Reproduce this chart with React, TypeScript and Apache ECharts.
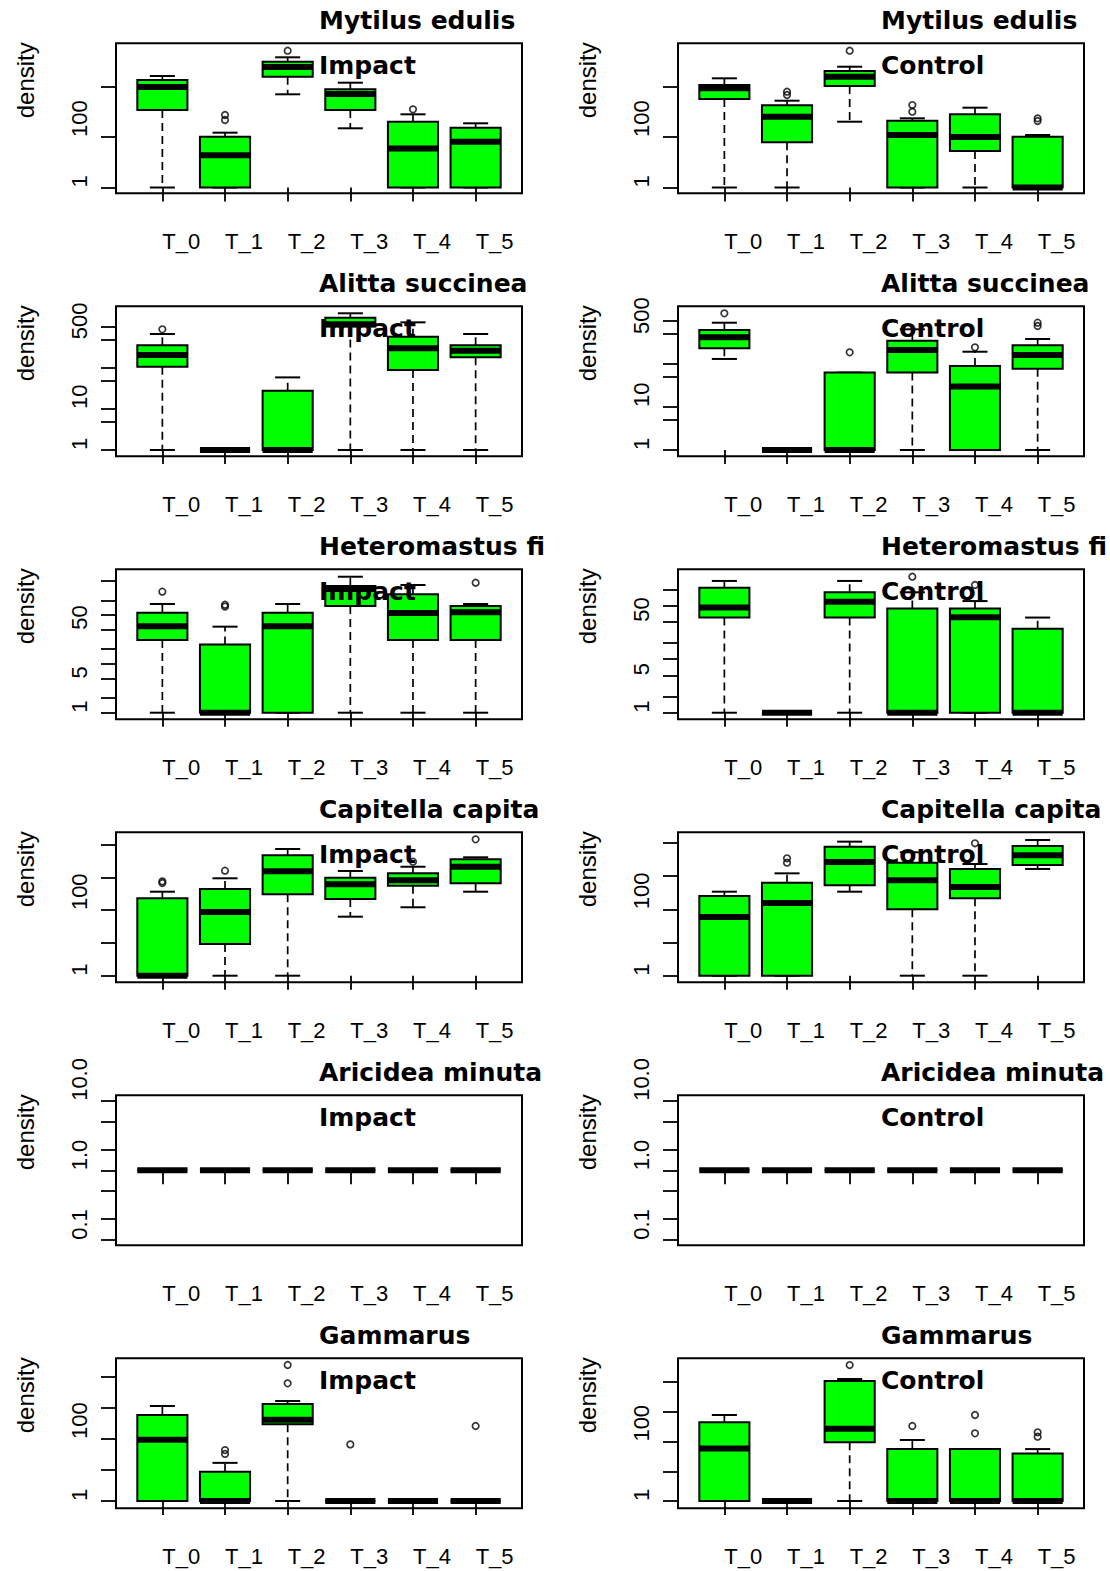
import React, { useEffect, useRef } from "react";
import * as echarts from "echarts";

// ---------------- data ----------------
const categories = ["T_0", "T_1", "T_2", "T_3", "T_4", "T_5"];
const speciesTitles = ["Mytilus edulis", "Alitta succinea", "Heteromastus fi", "Capitella capita", "Aricidea minuta", "Gammarus"];
const sites = ["Impact", "Control"];
const yTitle = "density";

// five-number summaries per period: [lower whisker, Q1, median, Q3, upper whisker]
const mytilusImpact = [[1, 1160, 9380, 17700, 25500], [1, 1, 19, 102, 147], [4830, 23900, 57900, 93800, 140000], [219, 1160, 4960, 7600, 13900], [1, 1, 35, 399, 782], [1, 1, 65, 231, 345]];
const mytilusControl = [[1, 3150, 8340, 11300, 20700], [1, 61, 629, 1770, 2700], [399, 10300, 23900, 40200, 59500], [1, 1, 119, 437, 543], [1, 28, 99, 782, 1430], [1, 1, 1, 102, 119]];
const alittaImpact = [[1, 108, 208, 358, 675], [1, 1, 1, 1, 1], [1, 1, 1, 28, 59], [1, 1030, 1160, 1690, 2160], [1, 89, 302, 580, 1300], [1, 182, 264, 358, 675]];
const alittaControl = [[131, 232, 418, 618, 912], [1, 1, 1, 1, 1], [1, 1, 1, 63, 63], [1, 63, 212, 348, 641], [1, 1, 30, 90, 193], [1, 78, 162, 272, 381]];
const heteroImpact = [[1, 31, 59, 112, 169], [1, 1, 1, 25, 58], [1, 1, 59, 112, 169], [1, 154, 343, 395, 612], [1, 31, 110, 267, 414], [1, 31, 115, 154, 169]];
const heteroControl = [[1, 60, 93, 217, 290], [1, 1, 1, 1, 1], [1, 60, 119, 178, 290], [1, 1, 1, 89, 178], [1, 1, 61, 89, 122], [1, 1, 1, 37, 60]];
const capitellaImpact = [[1, 1, 1, 229, 364], [1, 9.3, 87, 440, 933], [1, 303, 1520, 4690, 7290], [63, 218, 612, 972, 1560], [122, 554, 811, 1320, 2100], [364, 656, 2100, 3540, 4070]];
const capitellaControl = [[1, 1, 59, 252, 339], [1, 1, 155, 633, 1210], [339, 528, 2660, 7690, 10900], [1, 100, 747, 2530, 5210], [1, 214, 469, 1640, 2310], [1640, 2160, 4230, 8070, 12200]];
const aricideaImpact = [[1, 1, 1, 1, 1], [1, 1, 1, 1, 1], [1, 1, 1, 1, 1], [1, 1, 1, 1, 1], [1, 1, 1, 1, 1], [1, 1, 1, 1, 1]];
const aricideaControl = [[1, 1, 1, 1, 1], [1, 1, 1, 1, 1], [1, 1, 1, 1, 1], [1, 1, 1, 1, 1], [1, 1, 1, 1, 1], [1, 1, 1, 1, 1]];
const gammarusImpact = [[1, 1, 95, 595, 1160], [1, 1, 1, 8.8, 17], [1, 298, 420, 1350, 1680], [1, 1, 1, 1, 1], [1, 1, 1, 1, 1], [1, 1, 1, 1, 1]];
const gammarusControl = [[1, 1, 59, 447, 787], [1, 1, 1, 1, 1], [1, 95, 272, 11000, 12800], [1, 1, 1, 56, 113], [1, 1, 1, 56, 56], [1, 1, 1, 40, 56]];

// outliers: [period index, density]
const mytilusImpactOut = [[1, 734], [1, 466], [2, 255000], [4, 1230]];
const mytilusControlOut = [[1, 6120], [1, 4530], [2, 255000], [3, 1820], [3, 991], [5, 543], [5, 425]];
const alittaImpactOut = [[0, 879]];
const alittaControlOut = [[0, 1510], [2, 187], [4, 244], [5, 914], [5, 765]];
const heteroImpactOut = [[0, 302], [1, 163], [1, 150], [5, 461]];
const heteroControlOut = [[3, 348], [4, 244]];
const capitellaImpactOut = [[0, 755], [0, 670], [1, 1590], [4, 2990], [5, 14400]];
const capitellaControlOut = [[1, 3440], [1, 2530], [4, 9730]];
const aricideaImpactOut: number[][] = [];
const aricideaControlOut: number[][] = [];
const gammarusImpactOut = [[1, 44], [1, 33], [2, 24400], [2, 6260], [3, 67], [5, 263]];
const gammarusControlOut = [[2, 37900], [3, 335], [4, 787], [4, 190], [5, 206], [5, 146]];

// log-axis tick values and the labels R kept
const ticksEvery2Dec = [1, 100, 10000];
const ticks1510 = [1, 5, 10, 50, 100, 500, 1000];
const ticks125a = [1, 2, 5, 10, 20, 50, 100, 200, 500];
const ticks125b = [1, 2, 5, 10, 20, 50, 100, 200];
const ticksDecades = [1, 10, 100, 1000, 10000];
const ticksSmall = [0.1, 0.2, 0.5, 1, 2, 5, 10];
const labels1_100 = ["1", "100"];
const labels1_10_500 = ["1", "10", "500"];
const labels1_5_50 = ["1", "5", "50"];
const labelsSmall = ["0.1", "1.0", "10.0"];

// y-axis ranges (log10 units), as drawn by R (4% padding)
const axisRangesLog = [
  [-0.229, 5.7], [-0.229, 5.7],
  [-0.154, 3.505], [-0.147, 3.342],
  [-0.135, 2.939], [-0.123, 2.68],
  [-0.201, 4.372], [-0.199, 4.319],
  [-1.08, 1.08], [-1.08, 1.08],
  [-0.235, 4.603], [-0.246, 4.805],
];

const panelStats = [mytilusImpact, mytilusControl, alittaImpact, alittaControl, heteroImpact, heteroControl, capitellaImpact, capitellaControl, aricideaImpact, aricideaControl, gammarusImpact, gammarusControl];
const panelOutliers = [mytilusImpactOut, mytilusControlOut, alittaImpactOut, alittaControlOut, heteroImpactOut, heteroControlOut, capitellaImpactOut, capitellaControlOut, aricideaImpactOut, aricideaControlOut, gammarusImpactOut, gammarusControlOut];
const panelTicks = [ticksEvery2Dec, ticksEvery2Dec, ticks1510, ticks1510, ticks125a, ticks125b, ticksDecades, ticksDecades, ticksSmall, ticksSmall, ticksDecades, ticksDecades];
const panelLabels = [labels1_100, labels1_100, labels1_10_500, labels1_10_500, labels1_5_50, labels1_5_50, labels1_100, labels1_100, labelsSmall, labelsSmall, labels1_100, labels1_100];

// ---------------- layout ----------------
const W = 1110;
const H = 1571;
const FRAME_LEFT = [116, 678];
const FRAME_W = 406;
const FRAME_H = 150;
const FRAME_TOP0 = 43.3;
const ROW_PITCH = 263;
const BAND = FRAME_W / 6.48;
const GRID_PAD = 0.24 * BAND;

const AX_FONT = "Liberation Sans";
const TITLE_FONT = "DejaVu Sans";

function buildOption() {
  const grid: any[] = [];
  const xAxis: any[] = [];
  const yAxis: any[] = [];
  const series: any[] = [];
  const graphic: any[] = [];

  for (let p = 0; p < 12; p++) {
    const row = Math.floor(p / 2);
    const col = p % 2;
    const fLeft = FRAME_LEFT[col];
    const fTop = FRAME_TOP0 + row * ROW_PITCH;
    const [lo, hi] = axisRangesLog[p];
    const labelStrs = panelLabels[p];
    const labelVals = labelStrs.map((s) => Math.log10(parseFloat(s)));

    grid.push({
      left: fLeft + GRID_PAD,
      top: fTop,
      width: 6 * BAND,
      height: FRAME_H,
      containLabel: false,
      outerBoundsMode: "none",
    });
    xAxis.push({
      gridIndex: p,
      type: "category",
      data: categories,
      boundaryGap: true,
      axisLine: { show: false },
      splitLine: { show: false },
      axisTick: { show: true, alignWithLabel: true, interval: 0, length: 14, lineStyle: { color: "#000", width: 1.8 } },
      axisLabel: { show: true, interval: 0, align: "left", margin: 37, fontSize: 22, fontFamily: AX_FONT, color: "#000" },
    });
    yAxis.push({
      gridIndex: p,
      type: "value",
      min: lo,
      max: hi,
      offset: GRID_PAD,
      splitLine: { show: false },
      axisLine: { show: false },
      axisTick: {
        show: true,
        length: 15,
        customValues: panelTicks[p].map((t) => Math.log10(t)),
        lineStyle: { color: "#000", width: 1.8 },
      },
      axisLabel: {
        show: true,
        customValues: labelVals,
        rotate: 90,
        align: "left",
        margin: 26,
        fontSize: 22,
        fontFamily: AX_FONT,
        color: "#000",
        formatter: (v: number) => {
          const i = labelVals.findIndex((lv) => Math.abs(lv - v) < 1e-6);
          return i >= 0 ? labelStrs[i] : "";
        },
      },
    });

    series.push({
      type: "custom",
      xAxisIndex: p,
      yAxisIndex: p,
      encode: { x: 0, y: [1, 2, 3, 4, 5] },
      data: panelStats[p].map((s, i) => [i, ...s.map((v) => Math.log10(v))]),
      renderItem: (params: any, api: any) => {
        const x = api.value(0);
        const low = api.coord([x, api.value(1)]);
        const q1 = api.coord([x, api.value(2)]);
        const med = api.coord([x, api.value(3)]);
        const q3 = api.coord([x, api.value(4)]);
        const high = api.coord([x, api.value(5)]);
        const band = api.size([1, 0])[0];
        const bw = band * 0.8;
        const sw = band * 0.4;
        const cx = low[0];
        const dash = { stroke: "#000", lineWidth: 1.7, lineDash: [8, 5], fill: null };
        const solid = { stroke: "#000", lineWidth: 2, fill: null };
        const children: any[] = [];
        if (high[1] < q3[1] - 0.5) {
          children.push({ type: "line", shape: { x1: cx, y1: q3[1], x2: cx, y2: high[1] }, style: dash });
        }
        if (low[1] > q1[1] + 0.5) {
          children.push({ type: "line", shape: { x1: cx, y1: q1[1], x2: cx, y2: low[1] }, style: dash });
        }
        children.push({ type: "line", shape: { x1: cx - sw / 2, y1: high[1], x2: cx + sw / 2, y2: high[1] }, style: solid });
        children.push({ type: "line", shape: { x1: cx - sw / 2, y1: low[1], x2: cx + sw / 2, y2: low[1] }, style: solid });
        children.push({
          type: "rect",
          shape: { x: cx - bw / 2, y: q3[1], width: bw, height: q1[1] - q3[1] },
          style: { fill: "#00ff00", stroke: "#000", lineWidth: 2 },
        });
        children.push({
          type: "line",
          shape: { x1: cx - bw / 2, y1: med[1], x2: cx + bw / 2, y2: med[1] },
          style: { stroke: "#000", lineWidth: 6, fill: null },
        });
        return { type: "group", children };
      },
      z: 3,
    });

    series.push({
      type: "scatter",
      xAxisIndex: p,
      yAxisIndex: p,
      data: panelOutliers[p].map(([c, v]) => [c, Math.log10(v)]),
      symbol: "circle",
      symbolSize: 6.5,
      itemStyle: { color: "rgba(0,0,0,0)", borderColor: "#000", borderWidth: 1.7 },
      z: 4,
    });

    graphic.push({
      type: "rect",
      silent: true,
      z: 10,
      shape: { x: fLeft, y: fTop, width: FRAME_W, height: FRAME_H },
      style: { fill: "none", stroke: "#000", lineWidth: 2 },
    });
    graphic.push({
      type: "text",
      silent: true,
      z: 100,
      x: fLeft + FRAME_W / 2,
      y: fTop - 22.5,
      style: { text: speciesTitles[row], font: `bold 25px "${TITLE_FONT}"`, fill: "#000", align: "left", verticalAlign: "middle" },
    });
    graphic.push({
      type: "text",
      silent: true,
      z: 100,
      x: fLeft + FRAME_W / 2,
      y: fTop + 22.5,
      style: { text: sites[col], font: `bold 25px "${TITLE_FONT}"`, fill: "#000", align: "left", verticalAlign: "middle" },
    });
    graphic.push({
      type: "text",
      silent: true,
      z: 100,
      x: fLeft - 91,
      y: fTop + FRAME_H / 2,
      rotation: Math.PI / 2,
      style: { text: yTitle, font: `24px "${AX_FONT}"`, fill: "#000", align: "left", verticalAlign: "middle" },
    });
  }

  return {
    animation: false,
    backgroundColor: "#ffffff",
    textStyle: { fontFamily: AX_FONT },
    grid,
    xAxis,
    yAxis,
    series,
    graphic,
  };
}

export default function App() {
  const ref = useRef<HTMLDivElement>(null);
  useEffect(() => {
    if (!ref.current) return;
    const chart = echarts.init(ref.current, undefined, { renderer: "svg" });
    chart.setOption(buildOption() as any);
    return () => chart.dispose();
  }, []);
  return <div ref={ref} style={{ position: "absolute", left: 0, top: 0, width: W, height: H }} />;
}
